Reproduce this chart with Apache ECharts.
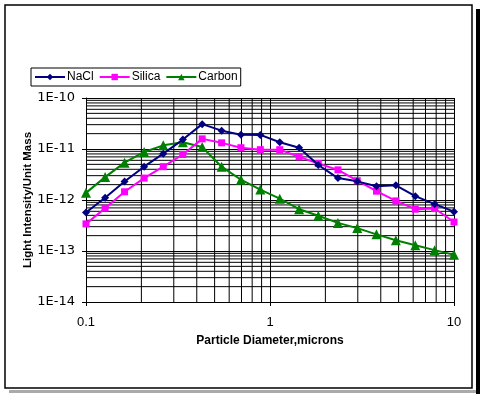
<!DOCTYPE html>
<html><head><meta charset="utf-8">
<script src="https://cdn.jsdelivr.net/npm/echarts@6/dist/echarts.min.js"></script>
<style>html,body{margin:0;padding:0;background:#fff}#c{width:480px;height:394px}</style>
</head><body><div id="c"></div>
<script>
var diameters = [0.1, 0.127, 0.162, 0.207, 0.263, 0.336, 0.428, 0.546, 0.695, 0.886, 1.13, 1.44, 1.83, 2.34, 2.98, 3.79, 4.83, 6.16, 7.85, 10];
var nacl   = [5.7e-13, 1.11e-12, 2.3e-12, 4.5e-12, 8.1e-12, 1.53e-11, 3.07e-11, 2.29e-11, 1.91e-11, 1.89e-11, 1.36e-11, 1.06e-11, 4.85e-12, 2.69e-12, 2.32e-12, 1.86e-12, 1.94e-12, 1.19e-12, 8.3e-13, 5.9e-13];
var silica = [3.4e-13, 6.9e-13, 1.45e-12, 2.69e-12, 4.5e-12, 7.8e-12, 1.58e-11, 1.32e-11, 1.06e-11, 9.7e-12, 9.7e-12, 7.0e-12, 5.2e-12, 3.9e-12, 2.39e-12, 1.49e-12, 9.6e-13, 6.6e-13, 6.8e-13, 3.7e-13];
var carbon = [1.38e-12, 2.81e-12, 5.4e-12, 8.75e-12, 1.18e-11, 1.36e-11, 1.09e-11, 4.5e-12, 2.5e-12, 1.6e-12, 1.06e-12, 6.6e-13, 4.92e-13, 3.56e-13, 2.81e-13, 2.12e-13, 1.63e-13, 1.30e-13, 1.04e-13, 8.4e-14];
var seriesNames = ['NaCl', 'Silica', 'Carbon'];
var xMinorGrid = [0.2,0.3,0.4,0.5,0.6,0.7,0.8,0.9,2,3,4,5,6,7,8,9];
var yDecades = [1e-14, 1e-13, 1e-12, 1e-11];
var yMultipliers = [2,3,4,5,6,7,8,9];
var xRange = [0.1, 10];
var yRange = [1e-14, 1e-10];

function pairs(ys){ return diameters.map(function(x,i){return [x, ys[i]];}); }
var gridSeries = [];
function gridLine(data){
  gridSeries.push({type:'line', data:data, symbol:'none', silent:true, z:1, animation:false,
    lineStyle:{color:'#000', width:1}, emphasis:{disabled:true}, tooltip:{show:false}});
}
xMinorGrid.forEach(function(v){ gridLine([[v, yRange[0]],[v, yRange[1]]]); });
yDecades.forEach(function(d){ yMultipliers.forEach(function(m){ var v = +(m*d).toPrecision(3); gridLine([[xRange[0], v],[xRange[1], v]]); }); });

var chart = echarts.init(document.getElementById('c'), null, {renderer:'canvas'});
var font = 'Arial, "Liberation Sans", sans-serif';
chart.setOption({
  animation: false,
  backgroundColor: '#fff',
  textStyle: {fontFamily: font},
  graphic: [
    {type:'rect', z:-10, shape:{x:476,y:9,width:4,height:385}, style:{fill:'#000'}, silent:true},
    {type:'rect', z:-10, shape:{x:9,y:390,width:467,height:3}, style:{fill:'#aaa'}, silent:true},
    {type:'rect', z:-5, shape:{x:5,y:5,width:467,height:383}, style:{fill:'#fff', stroke:'#000', lineWidth:1.5}, silent:true}
  ],
  legend: {
    left: 31, top: 68,
    data: seriesNames,
    borderColor: '#000', borderWidth: 1, borderRadius: 0,
    padding: [3, 3],
    itemWidth: 30, itemHeight: 8, itemGap: 5,
    textStyle: {fontFamily: font, fontSize: 12, color: '#000', padding:[0,0,0,-3]}
  },
  grid: {left: 86, right: 26, top: 98, bottom: 92},
  xAxis: {
    type: 'log', logBase: 10, min: xRange[0], max: xRange[1],
    name: 'Particle Diameter,microns', nameLocation: 'middle', nameGap: 33,
    nameTextStyle: {fontFamily: font, fontSize: 12, fontWeight: 'bold', color: '#000'},
    axisLine: {lineStyle: {color: '#000', width: 1}},
    axisTick: {show: true, inside: false, length: 4, lineStyle:{color:'#000'}},
    axisLabel: {color: '#000', fontSize: 13, margin: 14, fontFamily: font, formatter: function(v){ return String(v); }},
    splitLine: {show: true, lineStyle: {color: '#000', width: 1}}
  },
  yAxis: {
    type: 'log', logBase: 10, min: yRange[0], max: yRange[1],
    name: 'Light Intensity/Unit Mass', nameLocation: 'middle', nameGap: 52, nameRotate: 90,
    nameMoveOverlap: false,
    nameTextStyle: {fontFamily: font, fontSize: 11.5, fontWeight: 'bold', color: '#000'},
    axisLine: {show: true, lineStyle: {color: '#000', width: 1}},
    axisTick: {show: true, length: 4, lineStyle:{color:'#000'}},
    axisLabel: {color: '#000', fontSize: 13, margin: 11, fontFamily: '"DejaVu Sans", sans-serif', formatter: function(v){ return '1E' + Math.round(Math.log10(v)); }},
    splitLine: {show: true, lineStyle: {color: '#000', width: 1}}
  },
  series: gridSeries.concat([
    {name: 'NaCl', type: 'line', data: pairs(nacl), symbol: 'diamond', symbolSize: 8, z: 4,
     color: '#000080', lineStyle: {width: 2, color: '#000080'}, itemStyle:{color:'#000080'}},
    {name: 'Silica', type: 'line', data: pairs(silica), symbol: 'rect', symbolSize: 7, z: 3,
     color: '#ff00ff', lineStyle: {width: 2, color: '#ff00ff'}, itemStyle:{color:'#ff00ff'}},
    {name: 'Carbon', type: 'line', data: pairs(carbon), symbol: 'triangle', symbolSize: 10, z: 2,
     color: '#008000', lineStyle: {width: 2, color: '#008000'}, itemStyle:{color:'#008000'}}
  ])
});
</script></body></html>
